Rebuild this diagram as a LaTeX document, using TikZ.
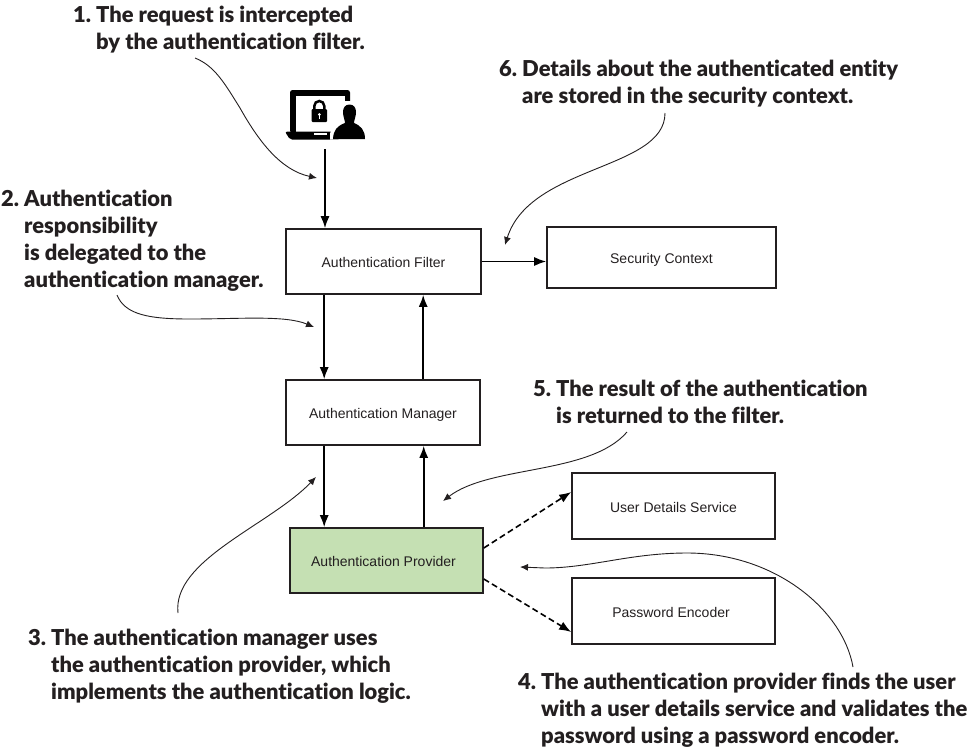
\documentclass[tikz,border=0pt]{standalone}
\usepackage{fontspec}
\setmainfont{Liberation Sans}
\newfontfamily\callfont{Lato}[BoldFont={Lato Black},Ligatures=NoCommon]
\usetikzlibrary{calc,arrows.meta}
\definecolor{inkgray}{HTML}{231F20}
\definecolor{provgreen}{HTML}{C5E0B3}
\newcommand{\numcol}[1]{\makebox[23pt][l]{#1}}
\tikzset{
  box/.style={draw=inkgray,line width=1.6pt,minimum width=195pt,minimum height=65pt,inner sep=0pt,
    text=inkgray,text height=12pt,text depth=0pt,font=\fontsize{14pt}{16pt}\selectfont},
  arr/.style={draw=black,line width=1.6pt,-{Latex[length=12pt,width=9pt]}},
  dasharr/.style={arr,dash pattern=on 6pt off 3.5pt},
  callout/.style={draw=inkgray,line width=0.9pt,-{Latex[length=8pt,width=7pt]}},
  calltext/.style={anchor=base west,align=left,inner sep=0pt,text=inkgray,
    font=\callfont\bfseries\fontsize{21.9pt}{26.8pt}\selectfont}
}
\begin{document}
\begin{tikzpicture}[x=1pt,y=-1pt]
\useasboundingbox (0,0) rectangle (977,748);
%Boxes
\node[box] (filter) at (383.5,261.5) {Authentication Filter};
\node[box,minimum width=229pt,minimum height=61pt] (context) at (661.5,257.5) {Security Context};
\node[box,minimum width=194pt] (manager) at (383,412.5) {Authentication Manager};
\node[box,minimum width=193pt,fill=provgreen] (provider) at (386.5,560.5) {\hspace*{-6pt}Authentication Provider};
\node[box,minimum width=203pt,minimum height=66pt] (details) at (673.5,506) {User Details Service};
\node[box,minimum width=203pt,minimum height=66pt] (encoder) at (673.5,611) {\hspace*{-5pt}Password Encoder};
%Icon
\fill[black,rounded corners=2.5pt] (290,90) rectangle (350,133);
\fill[white] (296,96) rectangle (345,131.7);
\fill[black,rounded corners=2pt] (285,131.7) -- (340,131.7) -- (340,139.5) -- (290,139.5) -- cycle;
\fill[white] (314,132.6) rectangle (327,134.6);
\draw[black,line width=2.5pt] (314.3,110) -- (314.3,106) arc[start angle=180,end angle=360,radius=5] -- (324.3,110);
\fill[black,rounded corners=1pt] (311.7,109) rectangle (327,122);
\fill[white] (319.3,114.5) circle[radius=1.5pt];
\fill[white] (318.6,115) rectangle (320,118.5);
\fill[white] (330,139.5) -- (330,134) .. controls (331,127) and (335,124) .. (340,122) -- (340,101) -- (356,101) -- (356,139.5) -- cycle;
\fill[black] (349.5,104.5) .. controls (345,104.5) and (343,108) .. (343,112) .. controls (343,117) and (345,120) .. (345,123)
  .. controls (337,126) and (333.5,130) .. (333,139) -- (365,139) .. controls (365,130) and (361,126) .. (354,123)
  .. controls (354,120) and (356,117) .. (356,112) .. controls (356,108) and (354,104.5) .. (349.5,104.5) -- cycle;
%Connectors
\coordinate (user) at (325,149);
\draw[arr] (user) -- (filter.north west -| user);
\draw[arr] ([xshift=39pt]filter.south west) -- ([xshift=39pt]manager.north west);
\draw[arr] ([xshift=138pt]manager.north west) -- ([xshift=138pt]filter.south west);
\draw[arr] ([xshift=39pt]manager.south west) -- ([xshift=35pt]provider.north west);
\draw[arr] ([xshift=134.5pt]provider.north west) -- ([xshift=138.5pt]manager.south west);
\draw[arr] (filter.east) -- (context.west |- filter.east);
\draw[dasharr] ([yshift=12.5pt]provider.east) -- ([yshift=14pt]details.west);
\draw[dasharr] ([yshift=-18.5pt]provider.east) -- ([yshift=-21pt]encoder.west);
%Labeling steps
\node[calltext] (one) at (73,49) {\numcol{1.}The request is intercepted\\\numcol{}by the authentication filter.};
\node[calltext] (two) at (1,287) {\numcol{2.}Authentication\\\numcol{}responsibility\\\numcol{}is delegated to the\\\numcol{}authentication manager.};
\node[calltext] (three) at (28,699) {\numcol{3.}The authentication manager uses\\\numcol{}the authentication provider, which\\\numcol{}implements the authentication logic.};
\node[calltext] (four) at (518,743) {\numcol{4.}The authentication provider finds the user\\\numcol{}with a user details service and validates the\\\numcol{}password using a password encoder.};
\node[calltext] (five) at (533,423) {\numcol{5.}The result of the authentication\\\numcol{}is returned to the filter.};
\node[calltext] (six) at (499,103) {\numcol{6.}Details about the authenticated entity\\\numcol{}are stored in the security context.};
%Callout curves
\coordinate (oneend) at (317,178);
\coordinate (twoend) at (314,327);
\coordinate (threeend) at (316,477);
\coordinate (fourend) at (520,567);
\coordinate (fiveend) at (443,501);
\coordinate (sixend) at (505,245);
\draw[callout] (195,58) .. controls (215,66) and (225,84) .. (240,108) .. controls (258,140) and (280,170) .. (oneend);
\draw[callout] (117,295) .. controls (125,315) and (150,319) .. (190,319) .. controls (240,319) and (285,315) .. (twoend);
\draw[callout] (178,613) .. controls (172,560) and (270,525) .. (threeend);
\draw[callout] (853,667) .. controls (843,610) and (775,553) .. (687,553) .. controls (630,553) and (590,568) .. (545,568) -- (fourend);
\draw[callout] (627,432) .. controls (590,475) and (490,465) .. (fiveend);
\draw[callout] (665,113) .. controls (665,170) and (530,165) .. (sixend);
\end{tikzpicture}
\end{document}
